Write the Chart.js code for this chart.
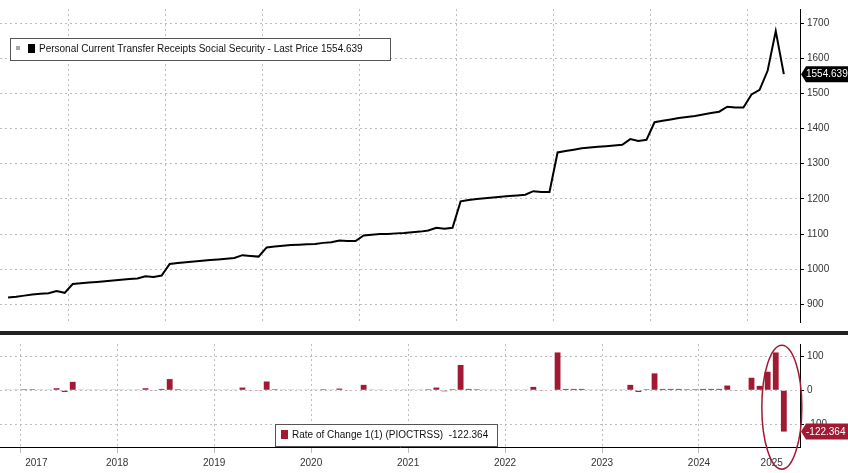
<!DOCTYPE html>
<html><head><meta charset="utf-8">
<script src="https://cdn.jsdelivr.net/npm/chart.js@4"></script>
<style>body{margin:0;background:#fff;width:848px;height:473px;overflow:hidden;font-family:"Liberation Sans",Arial,sans-serif}
#sep{position:absolute;left:0;top:331px;width:848px;height:4px;background:#222}</style>
</head><body>
<div style="position:absolute;left:0;top:0;width:848px;height:331px"><canvas id="a"></canvas></div>
<div id="sep"></div>
<div style="position:absolute;left:0;top:335px;width:848px;height:138px"><canvas id="b"></canvas></div>
<script>
// Monthly, May 2017 .. May 2025
const years = ['2017','2018','2019','2020','2021','2022','2023','2024','2025'];
const price = [920,922,925,928,930,932,938,933,
958,960,962,964,966,968,970,972,974,980,978,982,
1015,1018,1020,1022,1024,1026,1028,1030,1032,1040,1038,1036,
1062,1065,1067,1069,1070,1071,1072,1075,1077,1082,1080,1080,
1096,1098,1100,1100,1102,1103,1105,1107,1110,1118,1115,1118,
1193,1197,1200,1202,1204,1206,1208,1210,1212,1222,1220,1220,
1332,1336,1340,1344,1346,1348,1350,1352,1354,1370,1365,1368,
1418,1422,1426,1430,1433,1436,1440,1444,1448,1462,1460,1460,
1497,1510,1565,1677,1554.639];
const roc = [2,2,3,3,2,2,6,-5,
25,2,2,2,2,2,2,2,2,6,-2,4,
33,3,2,2,2,2,2,2,2,8,-2,-2,
26,3,2,2,1,1,1,3,2,5,-2,0,
16,2,2,0,2,1,2,2,3,8,-3,3,
75,4,3,2,2,2,2,2,2,10,-2,0,
112,4,4,4,2,2,2,2,2,16,-5,3,
50,4,4,4,3,3,4,4,4,14,-2,0,
37,13,55,112,-122.364];
const priceTicks = [900,1000,1100,1200,1300,1400,1500,1600,1700];
const rocTicks = [-100,0,100];
const red = '#a11a33';
const bounds = [7.5,19.5,31.5,43.5,55.5,67.5,79.5,91.5];
const centers = [3.5,13.5,25.5,37.5,49.5,61.5,73.5,85.5,94.5];
const xy = price.map((v,i)=>({x:i,y:v}));
const rxy = roc.map((v,i)=>({x:i,y:v}));
Chart.defaults.font.family='"Liberation Sans",Arial,sans-serif';
Chart.defaults.animation=false;
const fit = s=>{s.width=48;};
new Chart(document.getElementById('a'),{type:'line',
data:{datasets:[{data:xy,borderColor:'#000',borderWidth:2,pointRadius:0,tension:0}]},
options:{responsive:true,maintainAspectRatio:false,layout:{padding:{top:0}},
plugins:{legend:{display:false},tooltip:{enabled:false}},
scales:{
x:{type:'linear',min:-1,max:98,
 afterBuildTicks:s=>{s.ticks=bounds.map(v=>({value:v}));},
 ticks:{display:false},grid:{color:'#bdbdbd',drawTicks:false},border:{display:false,dash:[2,3]}},
y:{position:'right',min:850,max:1740,afterFit:fit,
 afterBuildTicks:s=>{s.ticks=priceTicks.map(v=>({value:v}));},
 border:{color:'#000',width:1,dash:[2,3]},
 grid:{color:'#bdbdbd',tickLength:4,tickColor:'#000'},
 ticks:{color:'#333',font:{size:10},padding:3,callback:v=>String(v)}}}},
plugins:[{id:'deco',afterDraw(c){const g=c.ctx;const y=c.scales.y;
 g.save();
 g.fillStyle='#fff';g.strokeStyle='#555';g.lineWidth=1;
 g.fillRect(10,38,380,22);g.strokeRect(10.5,38.5,380,22);
 g.fillStyle='#000';g.fillRect(28,44,7,9);
 g.fillStyle='#aaa';g.fillRect(16,46,4,4);
 g.fillStyle='#111';g.font='10px "Liberation Sans"';g.textBaseline='middle';
 g.fillText('Personal Current Transfer Receipts Social Security - Last Price 1554.639',39,49.5);
 const py=y.getPixelForValue(1554.639);
 g.fillStyle='#000';g.beginPath();g.moveTo(801,py);g.lineTo(806,py-8);g.lineTo(848,py-8);g.lineTo(848,py+8);g.lineTo(806,py+8);g.closePath();g.fill();
 g.fillStyle='#fff';g.fillText('1554.639',806,py+0.5);
 g.restore();}}]
});
new Chart(document.getElementById('b'),{type:'bar',
data:{datasets:[{data:rxy,backgroundColor:red,barPercentage:0.8,categoryPercentage:0.9}]},
options:{responsive:true,maintainAspectRatio:false,layout:{padding:0},
plugins:{legend:{display:false},tooltip:{enabled:false}},
scales:{
x:{type:'linear',min:-1,max:98,offset:false,
 afterBuildTicks:s=>{s.ticks=bounds.map(v=>({value:v})).concat(centers.map(v=>({value:v})));},
 ticks:{autoSkip:false,maxRotation:0,color:'#333',font:{size:10},padding:4,
  callback:(v)=>{const i=centers.indexOf(v);return i>=0?years[i]:'';}},
 grid:{color:c=>(c.tick&&bounds.includes(c.tick.value))?'#bdbdbd':'rgba(0,0,0,0)',tickLength:6},
 border:{color:'#000',dash:[2,3]}},
y:{position:'right',min:-168,max:137,afterFit:fit,
 afterBuildTicks:s=>{s.ticks=rocTicks.map(v=>({value:v}));},
 border:{color:'#000',dash:[2,3]},
 grid:{color:'#bdbdbd',tickLength:4,tickColor:'#000'},
 ticks:{color:'#333',font:{size:10},padding:3}}}},
plugins:[{id:'deco2',afterDraw(c){const g=c.ctx;const y=c.scales.y,x=c.scales.x;
 g.save();
 g.fillStyle='#fff';g.strokeStyle='#555';g.lineWidth=1;
 g.fillRect(275,89,222,22);g.strokeRect(275.5,89.5,222,22);
 g.fillStyle=red;g.fillRect(281,95,7,9);
 g.fillStyle='#111';g.font='10px "Liberation Sans"';g.textBaseline='middle';
 g.fillText('Rate of Change 1(1) (PIOCTRSS)  -122.364',292,100.5);
 const py=y.getPixelForValue(-122.364);
 g.fillStyle=red;g.beginPath();g.moveTo(801,py);g.lineTo(806,py-8);g.lineTo(848,py-8);g.lineTo(848,py+8);g.lineTo(806,py+8);g.closePath();g.fill();
 g.fillStyle='#fff';g.fillText('-122.364',806,py+0.5);
 const cx=x.getPixelForValue(96);
 g.strokeStyle=red;g.lineWidth=1.5;g.beginPath();g.ellipse(cx-2,y.getPixelForValue(-50),20,62,0,0,Math.PI*2);g.stroke();
 g.restore();}}]
});
</script></body></html>
